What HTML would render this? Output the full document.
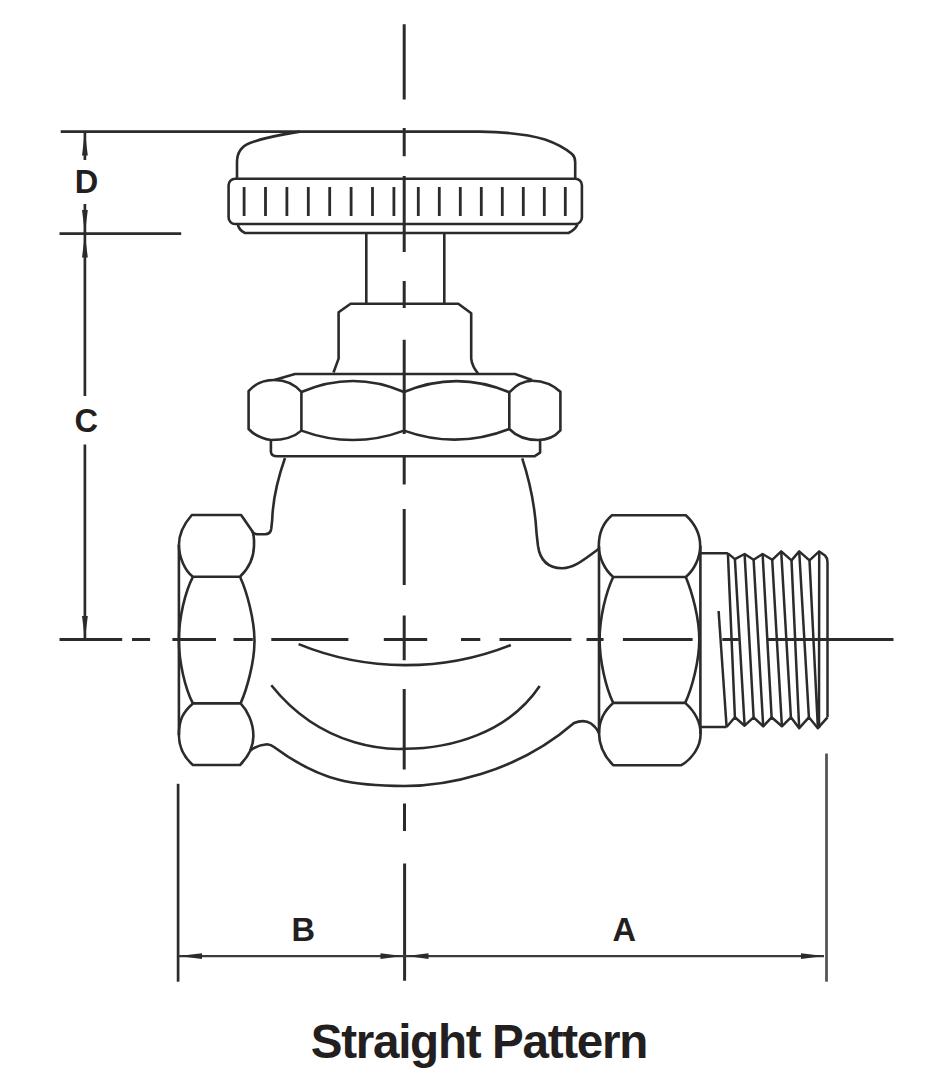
<!DOCTYPE html>
<html><head><meta charset="utf-8">
<style>
html,body{margin:0;padding:0;background:#fff;width:933px;height:1085px;overflow:hidden;}
svg{display:block;}
</style></head>
<body>
<svg width="933" height="1085" viewBox="0 0 933 1085">
<rect width="933" height="1085" fill="#fff"/>
<g fill="none" stroke="#2b2b2b" stroke-width="2.3" stroke-linejoin="round" stroke-linecap="butt">
<!-- vertical centerline -->
<g stroke-width="3">
<path d="M404.2,24.3V99.6 M404.2,128V156.2 M404.2,176V252 M404.2,281V308 M404.2,339.7V434 M404.2,456V484.6 M404.2,508.9V585 M404.2,615.4V660.2 M404.2,689V769.5 M404.5,803.5V831 M404.6,863.4V980.8"/>
<!-- horizontal centerline -->
<path d="M59.5,639.6H122.2 M132,639.6H150.1 M172.4,639.6H216 M233.5,639.6H252.8 M271.3,639.6H348.4 M383.8,639.6H427.2 M461,639.6H480.3 M499.5,639.6H571.4 M586.5,639.6H603.6 M622.9,639.6H692.6 M722.3,639.6H738.8 M767.4,639.6H893.5"/>
</g>
<!-- dimension lines -->
<g stroke-width="2.7">
<path d="M60.7,131.6H300 M59.5,233.7H181.2"/>
<path d="M84.9,132V160 M84.9,204V233.5 M84.9,234V396 M84.9,444.5V639"/>
<path d="M178.1,783.8V981.7"/>
<path d="M826.5,753.5V981.7" stroke="#555" stroke-width="2.8"/>
<path d="M178.5,956.1H404.6 M404.6,956.1H824" stroke="#3a3a3a" stroke-width="2.3"/>
</g>
</g>
<!-- arrowheads -->
<g fill="#2b2b2b" stroke="none">
<path d="M84.9,131.6 L87.8,155.5 L82,155.5 Z"/>
<path d="M84.9,233.5 L87.8,210 L82,210 Z"/>
<path d="M84.9,234 L87.8,257.5 L82,257.5 Z"/>
<path d="M84.9,639.3 L87.8,616 L82,616 Z"/>
<path d="M178.5,956.1 L202,953.2 L202,959.0 Z"/>
<path d="M402.5,956.1 L380.5,953.2 L380.5,959.0 Z"/>
<path d="M406.8,956.1 L428.5,953.2 L428.5,959.0 Z"/>
<path d="M824,956.1 L801,953.2 L801,959.0 Z"/>
</g>

<g fill="none" stroke="#2b2b2b" stroke-width="2.6" stroke-linejoin="round">
<!-- handle cap dome -->
<path d="M237,178 V162 Q237,148 250,143 Q265,137 300,131.6 H480 C510,132 530,135 545,139.5 C558,144 566,149 572,154 Q575.2,157 575.2,162 V178"/>
<!-- knurl band -->
<rect x="228.6" y="178.7" width="353.3" height="45.3" rx="6.5" ry="6.5"/>
<path d="M237.8,224 Q238.5,230 245,233 H568.5 Q575,230 577.5,224.5"/>
<!-- stem -->
<path d="M366.3,233.2 V303.7 M444.3,233.2 V303.7"/>
<!-- bonnet -->
<path d="M333.5,372.5 L338.6,358.6 V312.3 L350.6,303.7 H458.3 L471.2,313.2 V358.6 Q472,366 478,373.5"/>
<!-- nut -->
<path d="M274.3,380 L295,374 H515 L532,380"/>
<path d="M248.6,429 V391.2 Q258,380 274.3,380 Q291,380 301.4,392 V430.6 Q291,440 271,440 Q257,438 248.6,429 Z"/>
<path d="M301.4,392 Q353,370 404,392 Q457,370 509.3,392.3"/>
<path d="M301.4,430.6 Q353,449.5 404,430.6 Q457,449.5 509.3,429"/>
<path d="M509.3,392.3 Q520,380.7 532.4,380.7 Q549,381 560.4,391.8 V430.4 Q552,440 538,440 Q520,440 509.3,429 Z"/>
<!-- washer -->
<path d="M270.9,440 V452 Q271.7,456.3 277,456.3 H534.4 L540.1,452.6 V440"/>
<!-- body necks -->
<path d="M285,458 C279,475 273,495 272.2,520 L271.2,529 Q270.5,534.2 265,534.2 L257,534.2 Q254,534.2 251.8,531"/>
<path d="M522.2,458.4 C530,482 535,505 536.6,533.8 L538,546 C540,560 548,568 562,568.2 C572,568.4 580,563 598.5,549"/>
<!-- body bottom -->
<path d="M249.8,751 Q257,745 267,744.2 Q271,744.5 274,747 C322,782.5 355.5,786 404.5,786 C442.5,786 514,775 574,723 Q584,719 591,723.5 Q596,727 599.3,733.5"/>
<path d="M298.6,644.1 A284 284 0 0 0 510.8,645"/>
<path d="M271.3,685.3 C327.3,755.3 401.7,748.8 404.7,748.8 C448.7,748.8 507.7,734 539.7,686"/>
<!-- left fitting -->
<path d="M191.8,515 H241.1 L252.5,531.5 C254,535 254.2,540 254,546 C253.8,558 249,568 240,576.8 H192.9 C185,571 178.9,557 178.9,545 C178.9,533 184.8,523 191.8,515 Z"/>
<path d="M178.9,545 V735"/>
<path d="M192.9,576.8 C185,592 178.9,618 178.9,640 C178.9,662 185,688 192.9,703.4"/>
<path d="M240,576.8 C247,592 254.5,620 254.5,641 C254.5,662 247,689 240.6,703.4"/>
<path d="M192.9,703.4 H240.6 C247,710 253.4,722 253.4,736 C253.4,748 248,757 240,765 H192.9 C185,758 178.9,748 178.9,735 C178.9,720 183,712 192.9,703.4 Z"/>
<!-- right fitting -->
<path d="M612,515.3 H685.8 C693,522 700.2,532 700.2,546 C700.2,558 694,570 685.8,577 H613.2 C605,570 598.8,558 598.8,546 C598.8,532 604,522 612,515.3 Z"/>
<path d="M599,546 V733 M700.4,546 V734"/>
<path d="M613.2,577 C606,592 599.6,618 599.6,639.5 C599.6,661 606,688 613.2,702.9"/>
<path d="M685.8,577 C692,592 699.3,618 699.3,639.5 C699.3,661 692,688 685.2,702.9"/>
<path d="M613.2,702.9 H685.2 C692,709 700.6,720 700.6,734 C700.6,747 692,759 681.3,765.2 H613.2 C605,757 599,746 599,733 C599,721 605,710 613.2,702.9 Z"/>
<!-- thread nipple -->
<path d="M700,553.2 H727.9 M700,727 H726.6"/>
<g stroke-width="2.5">
<path d="M727.9,553.4 L734.9,559.1 L744.6,554 L753.6,559.8 L762.6,554 L772.2,559.8 L781.2,551.4 L791.5,560.4 L799.2,551.4 L809.5,560.4 L819.2,551.4 L825,555.5 Q827.5,558 827.5,562 V717.3"/>
<path d="M726.6,727 L734.9,717.3 L744.6,725.7 L753.6,717.3 L763.2,726.3 L771.6,717.3 L781.9,726.3 L790.9,717.3 L799.2,728.2 L808.9,717.3 L817.9,728.2 L827.5,717.3"/>
<path d="M727.9,553.4 L734.9,717.3 M734.9,559.1 L744.6,725.7 M744.6,554 L753.6,717.3 M753.6,559.8 L763.2,726.3 M762.6,554 L771.6,717.3 M772.2,559.8 L781.9,726.3 M781.2,551.4 L790.9,717.3 M791.5,560.4 L799.2,728.2 M799.2,551.4 L808.9,717.3 M809.5,560.4 L817.9,728.2 M819.2,551.4 L819,728"/>
<path d="M718.6,611 L726.6,727"/>
</g>
<!-- knurl ticks -->
<g stroke-width="2.8">
<path d="M244.1,187V216 M265.5,187V216 M286.9,187V216 M308.3,187V216 M329.7,187V216 M351.1,187V216 M372.5,187V216 M393.9,187V216 M418.3,187V216 M439.3,187V216 M460.3,187V216 M481.3,187V216 M502.3,187V216 M523.3,187V216 M544.3,187V216 M565.3,187V216"/>
</g>
</g>

<g fill="#231f20" font-family="Liberation Sans, sans-serif" font-weight="bold">
<text x="86.4" y="193.3" font-size="32.6" text-anchor="middle">D</text>
<text x="86.3" y="432.3" font-size="32.6" text-anchor="middle">C</text>
<text x="303.2" y="940.9" font-size="32.6" text-anchor="middle">B</text>
<text x="624.3" y="941.2" font-size="32.6" text-anchor="middle">A</text>
<text x="310.8" y="1058.4" font-size="47.6" letter-spacing="-1.3">Straight Pattern</text>
</g>
</svg>
</body></html>
